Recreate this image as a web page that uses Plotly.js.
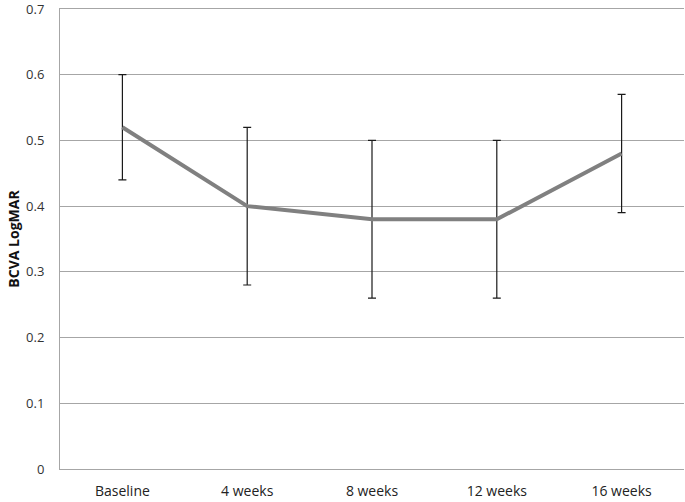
<!DOCTYPE html>
<html>
<head>
<meta charset="utf-8">
<script src="https://cdn.plot.ly/plotly-3.0.1.min.js"></script>
<style>html,body{margin:0;padding:0;background:#fff;}#chart{width:685px;height:502px;}</style>
</head>
<body>
<div id="chart"></div>
<script>
const categories = ["Baseline", "4 weeks", "8 weeks", "12 weeks", "16 weeks"];
const meanValues = [0.52, 0.40, 0.38, 0.38, 0.48];
const errorPlus = [0.08, 0.12, 0.12, 0.12, 0.09];
const errorMinus = [0.08, 0.12, 0.12, 0.12, 0.09];
const yTickValues = [0, 0.1, 0.2, 0.3, 0.4, 0.5, 0.6, 0.7];
const yTickLabels = ["0", "0.1", "0.2", "0.3", "0.4", "0.5", "0.6", "0.7"];

const trace = {
  x: categories,
  y: meanValues,
  type: "scatter",
  mode: "lines",
  line: {color: "#808080", width: 4},
  error_y: {
    type: "data",
    symmetric: false,
    array: errorPlus,
    arrayminus: errorMinus,
    color: "#1a1a1a",
    thickness: 1.2,
    width: 4
  },
  hoverinfo: "skip"
};

const layout = {
  width: 685,
  height: 502,
  margin: {l: 60, r: 1, t: 9, b: 33},
  paper_bgcolor: "#ffffff",
  plot_bgcolor: "#ffffff",
  showlegend: false,
  font: {family: "Open Sans, DejaVu Sans, sans-serif", size: 13, color: "#222"},
  xaxis: {
    type: "category",
    range: [-0.5, 4.5],
    showgrid: false,
    showline: true,
    mirror: true,
    linecolor: "#a6a6a6",
    linewidth: 1,
    zeroline: false,
    ticks: "",
    ticklabelstandoff: 9,
    tickfont: {size: 14, color: "#222"}
  },
  yaxis: {
    range: [0, 0.7],
    tickvals: yTickValues,
    ticktext: yTickLabels,
    ticklabeloverflow: "allow",
    showgrid: true,
    gridcolor: "#a6a6a6",
    gridwidth: 1,
    showline: true,
    linecolor: "#a6a6a6",
    linewidth: 1,
    zeroline: true,
    zerolinecolor: "#a6a6a6",
    zerolinewidth: 1,
    ticks: "",
    ticklabelstandoff: 12,
    tickfont: {size: 13, color: "#333"},
    title: {text: "<b>BCVA LogMAR</b>", font: {size: 14, color: "#111"}, standoff: 3}
  }
};

Plotly.newPlot("chart", [trace], layout, {displayModeBar: false, staticPlot: true});
</script>
</body>
</html>
